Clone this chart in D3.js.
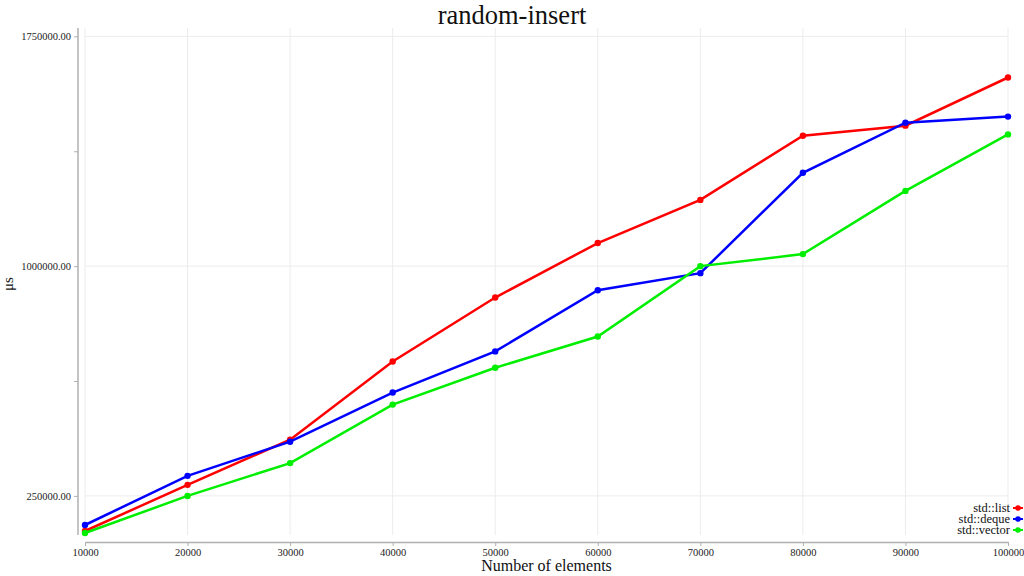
<!DOCTYPE html>
<html><head><meta charset="utf-8">
<script src="https://cdn.jsdelivr.net/npm/d3@7"></script>
<style>body{margin:0;background:#fff}svg{display:block}text{font-family:"Liberation Serif","Times New Roman",serif}</style>
</head><body>
<svg id="c" width="1024" height="576"></svg>
<script>
const elements = [10000,20000,30000,40000,50000,60000,70000,80000,90000,100000];
const seriesNames = ["std::list","std::deque","std::vector"];
const seriesColors = ["#ff0000","#0000ff","#00ee00"];
const listValues = [135400,286000,433400,688900,897500,1075300,1216200,1425800,1458500,1615700];
const dequeValues = [155000,315500,426900,587300,721600,921400,977100,1304600,1468300,1488000];
const vectorValues = [128800,249900,357100,548000,668200,770300,1000000,1039300,1245600,1430000];
const yMajorTicks = [250000,1000000,1750000];
const yMinorTicks = [625000,1375000];
const title = "random-insert";
const xLabel = "Number of elements";
const yLabel = "μs";

(function(){
const allSeries = [listValues, dequeValues, vectorValues];
const svg = d3.select("#c");
const pL = 85, pR = 1008, pT = 28, pB = 535;
const allVals = allSeries.flat();
const x = d3.scaleLinear().domain([d3.min(elements), d3.max(elements)]).range([pL, pR]);
const y = d3.scaleLinear().domain([d3.min(allVals)*0.95, d3.max(allVals)*1.1]).range([pB, pT]);

// grid
const g = svg.append("g");
g.selectAll("line.vg").data(elements).enter().append("line")
  .attr("x1", d=>x(d)).attr("x2", d=>x(d)).attr("y1", pT).attr("y2", pB)
  .attr("stroke", "#ececec").attr("stroke-width", 1);
g.selectAll("line.hg").data(yMajorTicks).enter().append("line")
  .attr("x1", pL).attr("x2", pR).attr("y1", d=>y(d)).attr("y2", d=>y(d))
  .attr("stroke", "#ececec").attr("stroke-width", 1);

// y axis
const yAxis = svg.append("g").attr("transform", `translate(${pL-7},0)`)
  .call(d3.axisLeft(y).tickValues(yMajorTicks).tickFormat(d3.format(".2f")).tickSize(4).tickSizeOuter(0));
svg.append("g").attr("transform", `translate(${pL-7},0)`)
  .call(d3.axisLeft(y).tickValues(yMinorTicks).tickFormat("").tickSize(4).tickSizeOuter(0))
  .select(".domain").remove();
// x axis
svg.append("g").attr("transform", `translate(0,${pB+7})`)
  .call(d3.axisBottom(x).tickValues(elements).tickFormat(d3.format("d")).tickSize(4).tickSizeOuter(0));
svg.selectAll(".domain").attr("stroke", "#b0b0b0").attr("stroke-width", 1.5);
svg.selectAll(".tick line").attr("stroke", "#b0b0b0");
svg.selectAll(".tick text").attr("font-family", "Liberation Serif").attr("font-size", 10.5).attr("fill", "#222");
yAxis.selectAll(".domain").attr("d", `M0,${pT}V${pB}`);

// lines
const line = d3.line().x((d,i)=>x(elements[i])).y(d=>y(d));
allSeries.forEach((vals, si) => {
  svg.append("path").datum(vals).attr("d", line).attr("fill", "none")
    .attr("stroke", seriesColors[si]).attr("stroke-width", 2.5);
  svg.selectAll(null).data(vals).enter().append("circle")
    .attr("cx", (d,i)=>x(elements[i])).attr("cy", d=>y(d)).attr("r", 3.2)
    .attr("fill", seriesColors[si]);
});

// title & labels
svg.append("text").attr("x", 512).attr("y", 24).attr("text-anchor", "middle")
  .attr("font-size", 26.5).attr("fill", "#111").text(title);
svg.append("text").attr("x", (pL+pR)/2).attr("y", 571).attr("text-anchor", "middle")
  .attr("font-size", 16).attr("fill", "#111").text(xLabel);
svg.append("text").attr("transform", "translate(13,284) rotate(-90)").attr("text-anchor", "middle")
  .attr("font-size", 15).attr("fill", "#111").text(yLabel);

// legend
const lg = svg.append("g");
seriesNames.forEach((name, i) => {
  const ly = 508 + i*11;
  lg.append("text").attr("x", 1010).attr("y", ly+4).attr("text-anchor", "end")
    .attr("font-size", 12.5).attr("fill", "#111").text(name);
  lg.append("line").attr("x1", 1013).attr("x2", 1023).attr("y1", ly).attr("y2", ly)
    .attr("stroke", seriesColors[i]).attr("stroke-width", 2);
  lg.append("circle").attr("cx", 1018).attr("cy", ly).attr("r", 2.8).attr("fill", seriesColors[i]);
});
})();
</script>
</body></html>
